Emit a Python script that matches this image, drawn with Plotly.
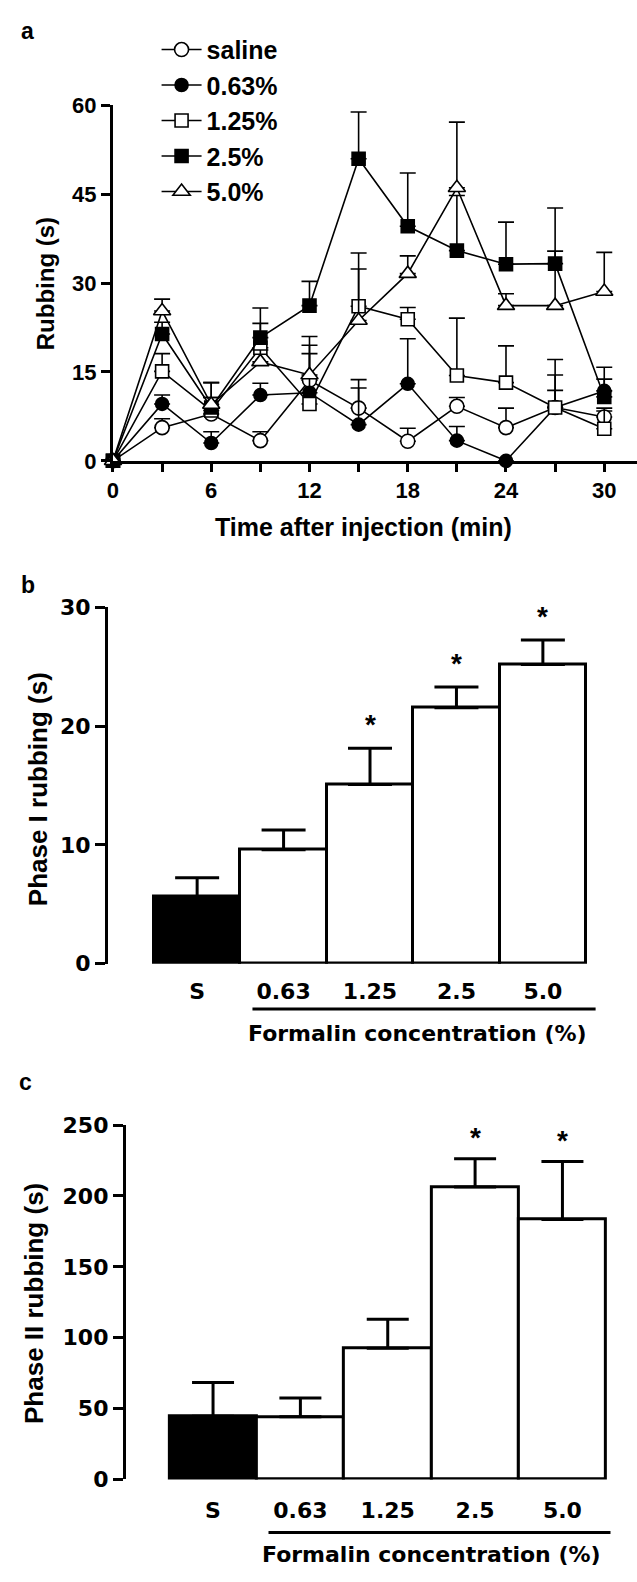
import plotly.graph_objects as go

# ---------------- data ----------------
time_min = [0, 3, 6, 9, 12, 15, 18, 21, 24, 27, 30]
time_ticks = [0, 3, 6, 9, 12, 15, 18, 21, 24, 27, 30]
time_ticktext = ["0", "", "6", "", "12", "", "18", "", "24", "", "30"]

series_names = ["saline", "0.63%", "1.25%", "2.5%", "5.0%"]
saline = [0, 5.6, 7.9, 3.4, 13.6, 8.9, 3.3, 9.2, 5.6, 9.0, 7.4]
saline_err = [0, 1.5, 2.8, 1.5, 5.9, 4.8, 2.2, 1.5, 3.3, 2.9, 1.0]
f063 = [0, 9.6, 3.0, 11.1, 11.5, 6.1, 13.0, 3.4, 0, 9.0, 11.8]
f063_err = [0, 1.5, 1.9, 2.0, 0, 6.2, 7.6, 2.4, 0, 5.5, 2.0]
f125 = [0, 15.1, 8.5, 19.1, 9.6, 26.1, 23.9, 14.4, 13.2, 9.0, 5.4]
f125_err = [0, 3.0, 2.2, 4.1, 8.5, 9.0, 2.0, 9.7, 6.2, 8.1, 3.5]
f25 = [0, 21.4, 9.0, 20.8, 26.2, 51.0, 39.6, 35.5, 33.2, 33.3, 10.8]
f25_err = [0, 2.0, 4.2, 5.0, 4.1, 7.9, 9.0, 9.3, 7.1, 9.4, 5.0]
f50 = [0, 25.3, 9.5, 16.7, 14.5, 23.7, 31.6, 46.1, 26.2, 26.2, 28.6]
f50_err = [0, 2.0, 3.7, 2.0, 6.5, 8.7, 3.0, 11.1, 2.0, 9.2, 6.6]

a_yticks = [0, 15, 30, 45, 60]

conc_labels = ["S", "0.63", "1.25", "2.5", "5.0"]
phase1 = [5.67, 9.59, 15.1, 21.55, 25.2]
phase1_err = [1.57, 1.66, 3.05, 1.75, 2.05]
phase1_sig = [False, False, True, True, True]
b_yticks = [0, 10, 20, 30]

phase2 = [44.5, 44.2, 92.6, 206.4, 183.4]
phase2_err = [23.9, 13.2, 20.5, 19.9, 41.0]
phase2_sig = [False, False, False, True, True]
c_yticks = [0, 50, 100, 150, 200, 250]

# ---------------- layout helpers ----------------
W, H = 637, 1582
def px(x):
    return x / W
def py(y):
    return 1 - y / H

AR = "Liberation Sans, Arial, sans-serif"
DJ = "DejaVu Sans, sans-serif"

fig = go.Figure()

# ---------------- panel a ----------------
styles = [
    dict(symbol="circle", color="white", size=14),
    dict(symbol="circle", color="black", size=13),
    dict(symbol="square", color="white", size=13),
    dict(symbol="square", color="black", size=13),
    dict(symbol="triangle-up", color="white", size=15),
]
ys = [saline, f063, f125, f25, f50]
errs = [saline_err, f063_err, f125_err, f25_err, f50_err]
for i, (name, y, e, st) in enumerate(zip(series_names, ys, errs, styles)):
    fig.add_trace(go.Scatter(
        x=time_min, y=y, name=name, mode="lines+markers",
        line=dict(color="black", width=1.6),
        marker=dict(symbol=st["symbol"], color=st["color"], size=st["size"],
                    line=dict(color="black", width=1.6)),
        error_y=dict(type="data", array=e, arrayminus=[0] * len(e), symmetric=False,
                     color="black", thickness=1.6, width=8),
        cliponaxis=False, legendgroup=f"g{i}", showlegend=True,
        xaxis="x", yaxis="y",
    ))

# ---------------- panel b ----------------
fig.add_trace(go.Bar(
    x=list(range(len(conc_labels))), y=phase1, width=1.0,
    marker=dict(color=["black"] + ["white"] * 4, line=dict(color="black", width=3)),
    error_y=dict(type="data", array=phase1_err, arrayminus=[0] * 5, symmetric=False,
                 color="black", thickness=3, width=22),
    showlegend=False, xaxis="x2", yaxis="y2",
))

# ---------------- panel c ----------------
fig.add_trace(go.Bar(
    x=list(range(len(conc_labels))), y=phase2, width=1.0,
    marker=dict(color=["black"] + ["white"] * 4, line=dict(color="black", width=3)),
    error_y=dict(type="data", array=phase2_err, arrayminus=[0] * 5, symmetric=False,
                 color="black", thickness=3, width=21),
    showlegend=False, xaxis="x3", yaxis="y3",
))

axis_common = dict(showgrid=False, zeroline=False, showline=True, linecolor="black",
                   linewidth=3, ticks="outside", tickwidth=3, tickcolor="black")

annotations = []
# stars
for i, s in enumerate(phase1_sig):
    if s:
        annotations.append(dict(x=i, y=phase1[i] + phase1_err[i], xref="x2", yref="y2",
                                text="*", showarrow=False, yanchor="middle", yshift=24,
                                font=dict(family=AR, size=28, color="black", weight="bold")))
for i, s in enumerate(phase2_sig):
    if s:
        annotations.append(dict(x=i, y=phase2[i] + phase2_err[i], xref="x3", yref="y3",
                                text="*", showarrow=False, yanchor="middle", yshift=21,
                                font=dict(family=AR, size=28, color="black", weight="bold")))

def txt(text, x, y, size, family=AR, angle=0):
    return dict(text=text, x=px(x), y=py(y), xref="paper", yref="paper", showarrow=False,
                xanchor="center", yanchor="middle", textangle=angle,
                font=dict(family=family, size=size, color="black", weight="bold"))

annotations += [
    txt("a", 22, 19, 23),
    txt("b", 22, 582, 23),
    txt("c", 20, 1087, 23),
    txt("Rubbing (s)", 40, 276, 24, angle=-90),
    txt("Time after injection (min)", 361, 523, 25),
    txt("Phase I rubbing (s)", 32, 790, 26, angle=-90),
    txt("Formalin concentration (%)", 415, 1038, 22, family=DJ),
    txt("Phase II rubbing (s)", 29, 1312, 26, angle=-90),
    txt("Formalin concentration (%)", 430, 1567, 22, family=DJ),
]

shapes = [
    dict(type="line", xref="x2", yref="paper", x0=0.64, x1=4.61, y0=py(1013), y1=py(1013),
         line=dict(color="black", width=3)),
    dict(type="line", xref="x3", yref="paper", x0=0.635, x1=4.55, y0=py(1545), y1=py(1545),
         line=dict(color="black", width=3)),
]

fig.update_layout(
    width=W, height=H, margin=dict(l=0, r=0, t=0, b=0),
    paper_bgcolor="white", plot_bgcolor="white",
    bargap=0,
    showlegend=True,
    legend=dict(x=px(152), y=py(15), xanchor="left", yanchor="top",
                font=dict(family=AR, size=25, color="black", weight="bold"),
                bgcolor="rgba(0,0,0,0)", itemwidth=40, tracegroupgap=0,
                traceorder="grouped"),
    xaxis=dict(domain=[px(108), 1.0], range=[0, 32], anchor="y",
               tickvals=time_ticks, ticktext=time_ticktext, ticklen=8,
               tickfont=dict(family=AR, size=22, color="black", weight="bold"),
               **axis_common),
    yaxis=dict(domain=[py(456), py(95)], range=[0, 60], anchor="x",
               tickvals=a_yticks, ticklen=9,
               tickfont=dict(family=AR, size=22, color="black", weight="bold"),
               **axis_common),
    xaxis2=dict(domain=[px(103), px(596)], range=[-1.031, 4.619], anchor="y2",
                tickvals=list(range(5)), ticktext=conc_labels,
                showgrid=False, zeroline=False, showline=False, ticks="",
                ticklabelstandoff=12,
                tickfont=dict(family=DJ, size=22, color="black", weight="bold")),
    yaxis2=dict(domain=[py(967), py(605)], range=[0, 30], anchor="x2",
                tickvals=b_yticks, ticklen=10,
                tickfont=dict(family=DJ, size=22, color="black", weight="bold"),
                **axis_common),
    xaxis3=dict(domain=[px(121), px(612)], range=[-0.998, 4.57], anchor="y3",
                tickvals=list(range(5)), ticktext=conc_labels,
                showgrid=False, zeroline=False, showline=False, ticks="",
                ticklabelstandoff=16,
                tickfont=dict(family=DJ, size=22, color="black", weight="bold")),
    yaxis3=dict(domain=[py(1491), py(1131)], range=[0, 250], anchor="x3",
                tickvals=c_yticks, ticklen=10,
                tickfont=dict(family=DJ, size=22, color="black", weight="bold"),
                **axis_common),
    annotations=annotations,
    shapes=shapes,
)

fig.write_html("out.html")
